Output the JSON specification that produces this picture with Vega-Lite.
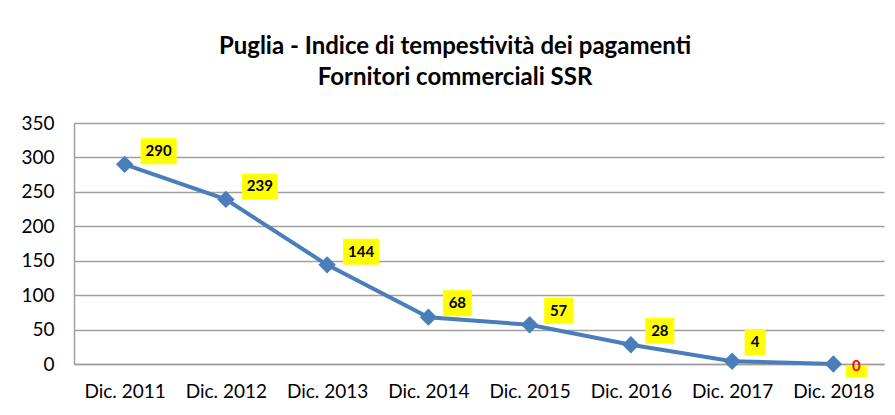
{
  "$schema": "https://vega.github.io/schema/vega-lite/v6.json",
  "width": 810,
  "height": 241,
  "autosize": {"type": "none"},
  "padding": {"left": 74, "top": 123, "right": 11, "bottom": 51},
  "background": "white",
  "config": {
    "view": {"stroke": null},
    "font": "Lato",
    "axis": {"labelFont": "Lato", "labelColor": "black", "title": null}
  },
  "title": {
    "text": ["Puglia - Indice di tempestività dei pagamenti", "Fornitori commerciali SSR"],
    "font": "Lato",
    "fontSize": 24,
    "fontWeight": "bold",
    "lineHeight": 31,
    "color": "black",
    "anchor": "middle",
    "dx": -24,
    "offset": 24
  },
  "data": {
    "values": [
      {"period": "Dic. 2011", "value": 290},
      {"period": "Dic. 2012", "value": 239},
      {"period": "Dic. 2013", "value": 144},
      {"period": "Dic. 2014", "value": 68},
      {"period": "Dic. 2015", "value": 57},
      {"period": "Dic. 2016", "value": 28},
      {"period": "Dic. 2017", "value": 4},
      {"period": "Dic. 2018", "value": 0}
    ]
  },
  "encoding": {
    "x": {
      "field": "period",
      "type": "nominal",
      "sort": null,
      "scale": {"paddingInner": 0, "paddingOuter": 0},
      "axis": {"labelAngle": 0, "ticks": false, "domainColor": "#A0A0A0", "domainWidth": 1.5, "labelFontSize": 19, "labelPadding": 18, "grid": false}
    },
    "y": {
      "field": "value",
      "type": "quantitative",
      "scale": {"domain": [0, 350], "nice": false},
      "axis": {"values": [0, 50, 100, 150, 200, 250, 300, 350], "ticks": false, "domainColor": "#A0A0A0", "domainWidth": 1.5, "gridColor": "#A0A0A0", "gridWidth": 1.5, "labelFontSize": 19, "labelPadding": 20}
    }
  },
  "layer": [
    {"mark": {"type": "line", "color": "#4A7EBB", "strokeWidth": 4}},
    {"mark": {"type": "point", "shape": "diamond", "filled": true, "size": 300, "color": "#4A7EBB", "opacity": 1}},
    {
      "transform": [{"filter": "datum.value >= 100"}],
      "layer": [
        {"mark": {"type": "point", "shape": "M-1.385,-1L1.385,-1L1.385,1L-1.385,1Z", "filled": true, "size": 676, "color": "#FFFF00", "opacity": 1, "xOffset": 34, "yOffset": -13}},
        {"mark": {"type": "text", "fontSize": 15, "fontWeight": "bold", "color": "black", "xOffset": 34, "yOffset": -13}, "encoding": {"text": {"field": "value", "type": "quantitative"}}}
      ]
    },
    {
      "transform": [{"filter": "datum.value >= 10 && datum.value < 100"}],
      "layer": [
        {"mark": {"type": "point", "shape": "M-1.115,-1L1.115,-1L1.115,1L-1.115,1Z", "filled": true, "size": 676, "color": "#FFFF00", "opacity": 1, "xOffset": 29, "yOffset": -14}},
        {"mark": {"type": "text", "fontSize": 15, "fontWeight": "bold", "color": "black", "xOffset": 29, "yOffset": -14}, "encoding": {"text": {"field": "value", "type": "quantitative"}}}
      ]
    },
    {
      "transform": [{"filter": "datum.value > 0 && datum.value < 10"}],
      "layer": [
        {"mark": {"type": "point", "shape": "M-0.81,-1L0.81,-1L0.81,1L-0.81,1Z", "filled": true, "size": 676, "color": "#FFFF00", "opacity": 1, "xOffset": 23, "yOffset": -19}},
        {"mark": {"type": "text", "fontSize": 15, "fontWeight": "bold", "color": "black", "xOffset": 23, "yOffset": -19}, "encoding": {"text": {"field": "value", "type": "quantitative"}}}
      ]
    },
    {
      "transform": [{"filter": "datum.value == 0"}],
      "layer": [
        {"mark": {"type": "point", "shape": "M-1.75,-1L1.75,-1L1.75,1L-1.75,1Z", "filled": true, "size": 144, "color": "#FFFF00", "opacity": 1, "xOffset": 23, "yOffset": 7}},
        {"mark": {"type": "text", "fontSize": 15, "fontWeight": "bold", "color": "#FF0000", "xOffset": 23, "yOffset": 2}, "encoding": {"text": {"field": "value", "type": "quantitative"}}}
      ]
    }
  ]
}
